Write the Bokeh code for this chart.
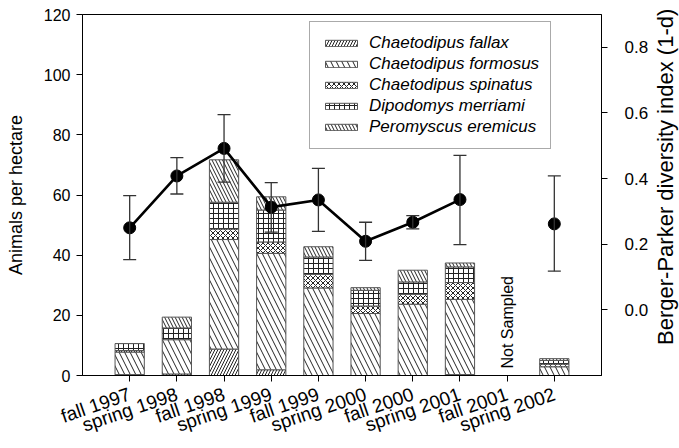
import math
import numpy as np
from bokeh.plotting import figure
from bokeh.models import (Range1d, LinearAxis, FixedTicker, Whisker, ColumnDataSource,
                          Legend, LegendItem, Label, TeeHead, NumeralTickFormatter)
from bokeh.embed import file_html
from bokeh.resources import INLINE

# ---------------- data ----------------
seasons = ["fall 1997", "spring 1998", "fall 1998", "spring 1999", "fall 1999",
           "spring 2000", "fall 2000", "spring 2001", "fall 2001", "spring 2002"]
species = ["Chaetodipus fallax", "Chaetodipus formosus", "Chaetodipus spinatus",
           "Dipodomys merriami", "Peromyscus eremicus"]
fallax   = [0.3, 0.5, 8.8, 1.9, 0.0, 0.0, 0.0, 0.3, 0.0, 0.0]
formosus = [7.5, 11.4, 36.4, 38.7, 29.1, 20.6, 23.7, 25.0, 0.0, 2.9]
spinatus = [0.5, 0.0, 3.5, 3.8, 4.5, 2.5, 3.3, 5.6, 0.0, 0.9]
merriami = [2.3, 3.9, 8.9, 10.6, 5.8, 5.2, 4.1, 5.2, 0.0, 1.2]
eremicus = [0.0, 3.6, 14.1, 4.4, 3.4, 0.9, 3.9, 1.3, 0.0, 0.6]
nan = float("nan")
diversity = [0.250, 0.408, 0.492, 0.313, 0.335, 0.209, 0.267, 0.336, nan, 0.262]
div_low   = [0.153, 0.353, 0.389, 0.237, 0.239, 0.151, 0.247, 0.199, nan, 0.118]
div_high  = [0.348, 0.464, 0.595, 0.388, 0.431, 0.267, 0.287, 0.471, nan, 0.408]
left_ticks = [0, 20, 40, 60, 80, 100, 120]
right_ticks = [0.0, 0.2, 0.4, 0.6, 0.8]
not_sampled = "fall 2001"
left_title = "Animals per hectare"
right_title = "Berger-Parker diversity index (1-d)"

# ---------------- figure ----------------
FONT = "Liberation Sans"
FRAME_W, FRAME_H = 519, 361
x = np.arange(1, len(seasons) + 1)
x_max = len(seasons) + 1

p = figure(frame_width=FRAME_W, frame_height=FRAME_H, x_range=Range1d(0, x_max),
           y_range=Range1d(0, 120), output_backend="svg", toolbar_location=None,
           min_border_left=82, min_border_right=78, min_border_top=14, min_border_bottom=72)
p.xgrid.visible = False
p.ygrid.visible = False
p.outline_line_color = "black"
p.outline_line_width = 1
p.background_fill_color = "white"

p.extra_y_ranges = {"div": Range1d(-0.2, 0.9)}

# stacked bars
patterns = [("right_diagonal_line", 6), ("left_diagonal_line", 11), ("diagonal_cross", 5),
            ("cross", 5), ("left_diagonal_line", 7)]
series = [fallax, formosus, spinatus, merriami, eremicus]
bottom = np.zeros(len(seasons))
bar_renderers = []
for name, vals, (pat, sc) in zip(species, series, patterns):
    vals = np.array(vals)
    top = bottom + vals
    mask = vals > 0
    src = ColumnDataSource(dict(x=x[mask], bottom=bottom[mask], top=top[mask]))
    r = p.vbar(x="x", bottom="bottom", top="top", width=0.62, source=src,
               fill_color="white", line_color="#555", line_width=1,
               hatch_pattern=pat, hatch_scale=sc, hatch_weight=1, hatch_color="#222")
    bar_renderers.append((name, r))
    bottom = top

# error bars
d = np.array(diversity); lo = np.array(div_low); hi = np.array(div_high)
ok = ~np.isnan(d)
esrc = ColumnDataSource(dict(x=x[ok], lower=lo[ok], upper=hi[ok]))
wh = Whisker(source=esrc, base="x", lower="lower", upper="upper", dimension="height",
             y_range_name="div", line_color="#333", line_width=1.3, level="glyph",
             upper_head=TeeHead(size=13, line_color="#333", line_width=1.3),
             lower_head=TeeHead(size=13, line_color="#333", line_width=1.3))
p.add_layout(wh)

# diversity line + points
lsrc = ColumnDataSource(dict(x=x, y=d))
p.line(x="x", y="y", source=lsrc, y_range_name="div", line_color="black", line_width=2.6)
p.scatter(x="x", y="y", source=lsrc, y_range_name="div", size=12,
          fill_color="black", line_color="black")

# Not Sampled
p.add_layout(Label(x=seasons.index(not_sampled) + 1, y=17.7, text="Not Sampled",
                   angle=math.pi / 2, text_align="center", text_baseline="middle",
                   text_font=FONT, text_font_size="16px", text_color="black"))

# axes
def style_axis(ax):
    ax.axis_line_color = "black"
    ax.axis_line_width = 1
    ax.major_tick_line_color = "black"
    ax.major_tick_out = 6
    ax.major_tick_in = 0
    ax.minor_tick_line_color = None
    ax.major_label_text_font = FONT
    ax.major_label_text_font_size = "16px"
    ax.major_label_text_color = "black"
    ax.axis_label_text_font = FONT
    ax.axis_label_text_font_style = "normal"
    ax.axis_label_text_color = "black"

xa = p.xaxis[0]
style_axis(xa)
xa.ticker = FixedTicker(ticks=list(x))
xa.major_label_overrides = {int(i): s for i, s in zip(x, seasons)}
xa.major_label_orientation = 0.33
xa.major_label_text_font_size = "19px"
xa.major_label_standoff = 12

ya = p.yaxis[0]
style_axis(ya)
ya.ticker = FixedTicker(ticks=left_ticks)
ya.axis_label = left_title
ya.axis_label_text_font_size = "18px"
ya.major_label_standoff = 6
ya.axis_label_standoff = 15

# right axis: title reads bottom-to-top (as in the reference), starting near the frame bottom
ra = LinearAxis(y_range_name="div", ticker=FixedTicker(ticks=right_ticks),
                formatter=NumeralTickFormatter(format="0.0"),
                axis_label="\u00a0" * 5 + right_title)
style_axis(ra)
ra.major_label_text_font_size = "17px"
ra.major_label_standoff = 17
ra.axis_label_text_font_size = "22px"
ra.axis_label_orientation = math.pi / 2
ra.axis_label_align = "start"
ra.axis_label_standoff = 14
p.add_layout(ra, "right")

# legend
items = [LegendItem(label=name, renderers=[r]) for name, r in bar_renderers]
leg = Legend(items=items, location=(227, 226), glyph_width=40, glyph_height=8,
             label_text_font=FONT, label_text_font_style="italic",
             label_text_font_size="17px", label_text_color="black",
             label_standoff=8, label_height=20, spacing=1, padding=11,
             border_line_color="#555", border_line_width=1,
             background_fill_color="white", background_fill_alpha=1.0)
p.add_layout(leg)

open("out.html", "w").write(file_html(p, INLINE))
